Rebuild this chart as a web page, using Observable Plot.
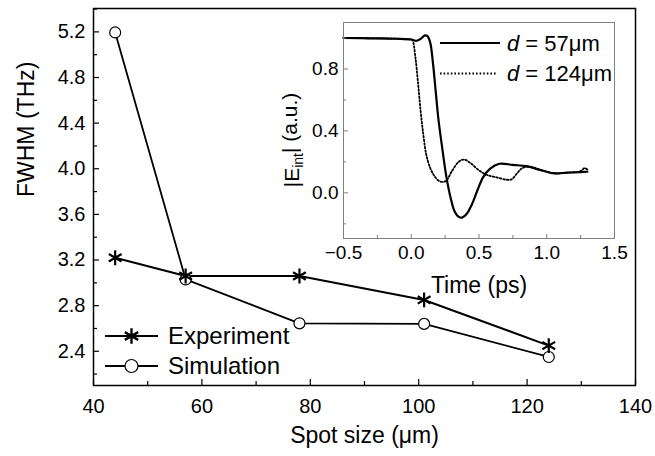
<!DOCTYPE html>
<html>
<head>
<meta charset="utf-8">
<script src="https://cdn.jsdelivr.net/npm/d3@7"></script>
<script src="https://cdn.jsdelivr.net/npm/@observablehq/plot@0.6"></script>
<style>
  html, body { margin: 0; padding: 0; background: white; }
  #wrap { position: relative; width: 655px; height: 456px; font-family: "Liberation Sans", Arial, sans-serif; }
  #inset { position: absolute; left: 280px; top: 14px; }
  svg { overflow: visible; }
</style>
</head>
<body>
<div id="wrap"><div id="main"></div><div id="inset"></div></div>
<script>
// ---- Main chart data ----
const spotSize   = [44, 57, 78, 101, 124];
const experiment = [3.22, 3.06, 3.06, 2.85, 2.45];
const simulation = [5.195, 3.03, 2.645, 2.64, 2.35];
const xMajor = [40, 60, 80, 100, 120, 140];
const xMinor = [50, 70, 90, 110, 130];
const yMajor = [2.4, 2.8, 3.2, 3.6, 4.0, 4.4, 4.8, 5.2];
const yMinor = [2.2, 2.6, 3.0, 3.4, 3.8, 4.2, 4.6, 5.0, 5.4];
const seriesNames = ["Experiment", "Simulation"];

// ---- Inset data: |E_int| vs time ----
const tSolid = [-0.5, -0.3, -0.1, 0.0, 0.04, 0.07, 0.10, 0.12, 0.14, 0.16, 0.18, 0.20, 0.23, 0.26, 0.29, 0.32, 0.35, 0.375, 0.41, 0.45, 0.49, 0.53, 0.58, 0.65, 0.75, 0.85, 0.95, 1.05, 1.15, 1.25, 1.30];
const eSolid = [1.0, 0.998, 0.995, 0.99, 0.982, 0.995, 1.017, 1.012, 0.97, 0.84, 0.66, 0.48, 0.28, 0.10, -0.03, -0.12, -0.155, -0.16, -0.135, -0.07, 0.02, 0.10, 0.155, 0.188, 0.18, 0.172, 0.148, 0.127, 0.13, 0.134, 0.136];
const tDotted = [-0.5, -0.3, -0.1, 0.0, 0.01, 0.03, 0.05, 0.07, 0.09, 0.11, 0.14, 0.17, 0.20, 0.23, 0.26, 0.30, 0.35, 0.39, 0.44, 0.50, 0.56, 0.63, 0.70, 0.74, 0.78, 0.82, 0.88, 0.95, 1.05, 1.15, 1.25, 1.28, 1.30];
const eDotted = [1.0, 0.998, 0.995, 0.99, 0.985, 0.88, 0.71, 0.52, 0.37, 0.25, 0.16, 0.11, 0.08, 0.07, 0.08, 0.14, 0.20, 0.215, 0.19, 0.145, 0.115, 0.10, 0.085, 0.087, 0.125, 0.16, 0.168, 0.15, 0.125, 0.13, 0.14, 0.16, 0.15];
const insetXTicks = [-0.5, 0.0, 0.5, 1.0, 1.5];
const insetXMinor = [-0.25, 0.25, 0.75, 1.25];
const insetYTicks = [0.0, 0.4, 0.8];
const insetYMinor = [-0.2, 0.2, 0.6, 1.0];
const insetNames = ["57", "124"];

const FONT = '"Liberation Sans", Arial, sans-serif';

const expData = spotSize.map((x, i) => ({x, y: experiment[i]}));
const simData = spotSize.map((x, i) => ({x, y: simulation[i]}));

const W = 655, H = 456, mT = 8, mR = 20, mB = 71, mL = 93;
const innerW = W - mL - mR, innerH = H - mT - mB;

const main = Plot.plot({
  width: W, height: H,
  marginTop: mT, marginRight: mR, marginBottom: mB, marginLeft: mL,
  style: {fontFamily: FONT, fontSize: "20px", color: "black", background: "transparent", overflow: "visible"},
  x: {domain: [40, 140]},
  y: {domain: [2.1, 5.405]},
  marks: [
    Plot.line(expData, {x: "x", y: "y", stroke: "black", strokeWidth: 2}),
    Plot.line(simData, {x: "x", y: "y", stroke: "black", strokeWidth: 1.8}),
    Plot.dot(simData, {x: "x", y: "y", r: 5.5, fill: "white", stroke: "black", strokeWidth: 1.2}),
    Plot.dot(expData, {x: "x", y: "y", symbol: "asterisk", r: 7, stroke: "black", strokeWidth: 2.2}),
    Plot.ruleX(xMajor, {x: d => d, insetTop: innerH - 6, stroke: "black", strokeWidth: 1.2}),
    Plot.ruleX(xMinor, {x: d => d, insetTop: innerH - 4, stroke: "black", strokeWidth: 1.2}),
    Plot.ruleY(yMajor, {y: d => d, insetRight: innerW - 6, stroke: "black", strokeWidth: 1.2}),
    Plot.ruleY(yMinor, {y: d => d, insetRight: innerW - 4, stroke: "black", strokeWidth: 1.2}),
    Plot.axisX({ticks: xMajor, tickSize: 0, tickPadding: 13, label: null, fontSize: 20, tickFormat: d => String(d)}),
    Plot.axisY({ticks: yMajor, tickSize: 0, tickPadding: 8, label: null, fontSize: 20, tickFormat: d3.format(".1f")}),
    Plot.text(["Spot size (\u03bcm)"], {frameAnchor: "bottom", dy: 57, fontSize: 23}),
    Plot.text(["FWHM (THz)"], {frameAnchor: "left", dx: -67, rotate: -90, fontSize: 23}),
    Plot.frame({stroke: "black", strokeWidth: 1.5})
  ]
});
document.getElementById("main").appendChild(main);

// main legend
{
  const svg = d3.select(main);
  const g = svg.append("g").attr("font-family", FONT).attr("font-size", 24).attr("text-anchor", "start");
  const rows = [
    {name: seriesNames[0], y: 336, sym: d3.symbolAsterisk, size: 170, fill: "none", sw: 2.4},
    {name: seriesNames[1], y: 366, sym: d3.symbolCircle, size: Math.PI * 6.5 * 6.5, fill: "white", sw: 1.2}
  ];
  rows.forEach(r => {
    g.append("line").attr("x1", 105).attr("x2", 158).attr("y1", r.y).attr("y2", r.y)
      .attr("stroke", "black").attr("stroke-width", 2);
    g.append("path").attr("d", d3.symbol(r.sym, r.size)())
      .attr("transform", `translate(131.5,${r.y})`)
      .attr("fill", r.fill).attr("stroke", "black").attr("stroke-width", r.sw);
    g.append("text").attr("x", 168).attr("y", r.y).attr("dy", "0.35em").attr("text-anchor", "start").text(r.name);
  });
}

// ---- Inset ----
const solidData = tSolid.map((t, i) => ({t, e: eSolid[i]}));
const dottedData = tDotted.map((t, i) => ({t, e: eDotted[i]}));
const iW = 345, iH = 290, imT = 8, imR = 11, imB = 66, imL = 63;
const iInnerW = iW - imL - imR, iInnerH = iH - imT - imB;
const gray = "#808080";

const inset = Plot.plot({
  width: iW, height: iH,
  marginTop: imT, marginRight: imR, marginBottom: imB, marginLeft: imL,
  style: {fontFamily: FONT, fontSize: "19px", color: "black", background: "transparent", overflow: "visible"},
  x: {domain: [-0.5, 1.5]},
  y: {domain: [-0.295, 1.1]},
  marks: [
    Plot.frame({fill: "white", stroke: "none"}),
    Plot.line(dottedData, {x: "t", y: "e", stroke: "black", strokeWidth: 1.8, strokeDasharray: "1.6,2", curve: "catmull-rom"}),
    Plot.line(solidData, {x: "t", y: "e", stroke: "black", strokeWidth: 2.2, curve: "catmull-rom"}),
    Plot.ruleX(insetXTicks, {x: d => d, insetTop: iInnerH - 4, stroke: gray}),
    Plot.ruleX(insetXMinor, {x: d => d, insetTop: iInnerH - 3, stroke: gray}),
    Plot.ruleY(insetYTicks, {y: d => d, insetRight: iInnerW - 5, stroke: gray}),
    Plot.ruleY(insetYMinor, {y: d => d, insetRight: iInnerW - 3, stroke: gray}),
    Plot.axisX({ticks: insetXTicks, tickSize: 0, tickPadding: 7, label: null, fontSize: 19, tickFormat: d3.format(".1f")}),
    Plot.axisY({ticks: insetYTicks, tickSize: 0, tickPadding: 5, label: null, fontSize: 19, tickFormat: d3.format(".1f")}),
    Plot.text(["Time (ps)"], {frameAnchor: "bottom", dy: 54, fontSize: 23}),
    Plot.frame({stroke: gray, strokeWidth: 1})
  ]
});
document.getElementById("inset").appendChild(inset);

{
  const svg = d3.select(inset);
  // y label |E_int| (a.u.)
  const t = svg.append("text")
    .attr("font-family", FONT).attr("font-size", 21)
    .attr("text-anchor", "middle")
    .attr("transform", "translate(11.5,126) rotate(-90)")
    .attr("dy", "0.35em");
  t.append("tspan").text("|E");
  t.append("tspan").attr("font-size", 14).attr("dy", "0.3em").text("int");
  t.append("tspan").attr("dy", "-0.3em").text("| (a.u.)");
  // inset legend
  const g = svg.append("g").attr("font-family", FONT).attr("font-size", 22).attr("text-anchor", "start");
  const rows = [
    {name: insetNames[0], y: 29, dash: null, w: 2.2, x2: 220},
    {name: insetNames[1], y: 59.5, dash: "1.6,2", w: 1.8, x2: 217}
  ];
  rows.forEach(r => {
    g.append("line").attr("x1", 160).attr("x2", r.x2).attr("y1", r.y).attr("y2", r.y)
      .attr("stroke", "black").attr("stroke-width", r.w).attr("stroke-dasharray", r.dash);
    const tx = g.append("text").attr("x", 227).attr("y", r.y).attr("dy", "0.35em").attr("text-anchor", "start");
    tx.append("tspan").attr("font-style", "italic").text("d");
    tx.append("tspan").text(" = " + r.name + "\u03bcm");
  });
}
</script>
</body>
</html>
